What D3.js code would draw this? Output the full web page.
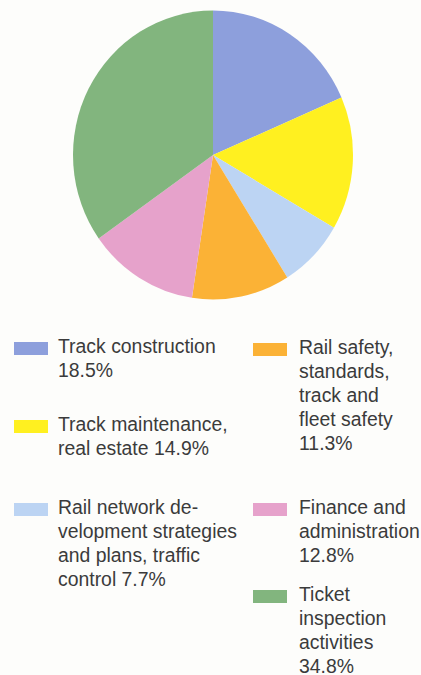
<!DOCTYPE html>
<html>
<head>
<meta charset="utf-8">
<script src="https://cdn.jsdelivr.net/npm/d3@7"></script>
<style>
  html, body { margin: 0; padding: 0; background: #fdfdfb; }
  svg { display: block; }
  text { font-family: "Liberation Sans", Arial, Helvetica, sans-serif; }
</style>
</head>
<body>
<svg id="chart" width="421" height="675"></svg>
<script>
// Budget shares by activity (percent), clockwise from 12 o'clock
const categories = [
  "Track construction",
  "Track maintenance, real estate",
  "Rail network development strategies and plans, traffic control",
  "Rail safety, standards, track and fleet safety",
  "Finance and administration",
  "Ticket inspection activities"
];
const values = [18.5, 14.9, 7.7, 11.3, 12.8, 34.8];
const colors = ["#8d9fdc", "#fff020", "#bcd4f3", "#fbb236", "#e6a2cb", "#82b57e"];

// Legend text, broken into lines; {v} is replaced by the share
const legendLines = [
  ["Track construction", "{v}"],
  ["Track maintenance,", "real estate {v}"],
  ["Rail network de-", "velopment strategies", "and plans, traffic", "control {v}"],
  ["Rail safety,", "standards,", "track and", "fleet safety", "{v}"],
  ["Finance and", "administration", "{v}"],
  ["Ticket", "inspection", "activities", "{v}"]
];

// Legend placement: column and first baseline of each entry
const legendLayout = [
  { col: 0, y: 353 },
  { col: 0, y: 431 },
  { col: 0, y: 514 },
  { col: 1, y: 354 },
  { col: 1, y: 514 },
  { col: 1, y: 601 }
];
const colX = [{ sw: 14, tx: 58 }, { sw: 253, tx: 299 }];
const lineH = 24;

const svg = d3.select("#chart");

const data = categories.map((c, i) => ({ name: c, value: values[i], color: colors[i], lines: legendLines[i] }));

// Pie
const pie = d3.pie().sort(null).value(d => d.value);
const arc = d3.arc().innerRadius(0).outerRadius(140);

const g = svg.append("g").attr("transform", "translate(213,155) scale(1,1.032)");
g.selectAll("path")
  .data(pie(data))
  .join("path")
  .attr("d", arc)
  .attr("fill", d => d.data.color);

// Legend
const fmt = v => d3.format(".1f")(v) + "%";
const items = svg.append("g").selectAll("g")
  .data(data)
  .join("g");

items.append("rect")
  .attr("x", (d, i) => colX[legendLayout[i].col].sw)
  .attr("y", (d, i) => legendLayout[i].y - 11)
  .attr("width", 34)
  .attr("height", 13)
  .attr("fill", d => d.color);

items.append("text")
  .attr("font-size", "19.4px")
  .attr("fill", "#3b3b3b")
  .selectAll("tspan")
  .data((d, i) => d.lines.map((l, k) => ({
    text: l.replace("{v}", fmt(d.value)),
    x: colX[legendLayout[i].col].tx,
    y: legendLayout[i].y + k * lineH
  })))
  .join("tspan")
  .attr("x", t => t.x)
  .attr("y", t => t.y)
  .text(t => t.text);
</script>
</body>
</html>
